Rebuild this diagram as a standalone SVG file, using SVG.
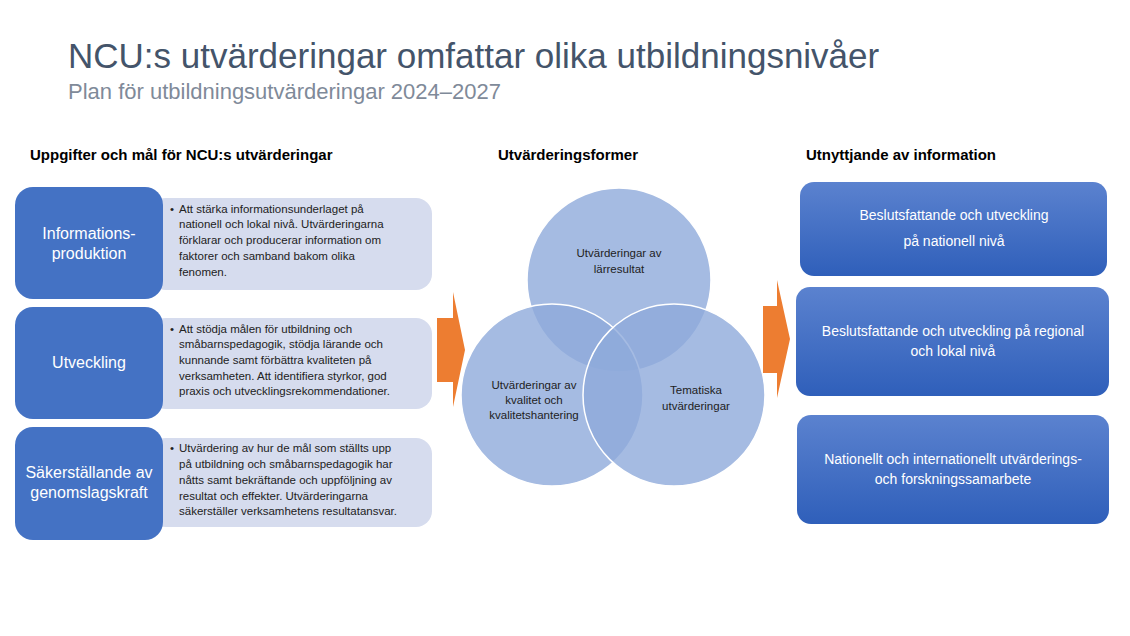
<svg xmlns="http://www.w3.org/2000/svg" width="1130" height="636" viewBox="0 0 1130 636">
<style>
text{font-family:"Liberation Sans",Arial,sans-serif}
.dark{fill:#4472c4}
.light{fill:#d6dcee}
.lbl{fill:#fff;font-size:16px;text-anchor:middle}
.desc{fill:#222;font-size:11.5px}
.head{fill:#000;font-size:15px;font-weight:bold}
.circ{fill:#8eaadb;fill-opacity:0.8;stroke:#fff;stroke-width:1.5}
.ctext{fill:#222;font-size:11.5px;text-anchor:middle}
.rbox{fill:url(#g)}
.rtext{fill:#fff;font-size:14px;text-anchor:middle}
.arrow{fill:#ed7d31}
</style>
<defs>
<linearGradient id="g" x1="0" y1="0" x2="0" y2="1">
<stop offset="0" stop-color="#5b82cf"/>
<stop offset="1" stop-color="#2f5fba"/>
</linearGradient>
</defs>
<rect width="1130" height="636" fill="#fff"/>
<text x="68" y="68" font-size="35" fill="#44546a">NCU:s utvärderingar omfattar olika utbildningsnivåer</text>
<text x="68" y="99" font-size="22" fill="#7f8a99">Plan för utbildningsutvärderingar 2024–2027</text>
<text class="head" x="30" y="160">Uppgifter och mål för NCU:s utvärderingar</text>
<text class="head" x="498" y="160">Utvärderingsformer</text>
<text class="head" x="806" y="160">Utnyttjande  av information</text>

<g id="n1">
<rect class="light" x="150" y="198" width="282" height="92" rx="16"/>
<rect class="dark" x="15" y="187" width="148" height="112" rx="18"/>
<text class="lbl" x="89" y="239">Informations-</text>
<text class="lbl" x="89" y="259">produktion</text>
<text class="desc" x="170" y="213">•</text>
<text class="desc" x="179" y="213">Att stärka informationsunderlaget på</text>
<text class="desc" x="179" y="228">nationell och lokal nivå. Utvärderingarna</text>
<text class="desc" x="179" y="244">förklarar och producerar information om</text>
<text class="desc" x="179" y="260">faktorer och samband bakom olika</text>
<text class="desc" x="179" y="276">fenomen.</text>
</g>
<g id="n2">
<rect class="light" x="150" y="318" width="282" height="91" rx="16"/>
<rect class="dark" x="15" y="307" width="148" height="112" rx="18"/>
<text class="lbl" x="89" y="368">Utveckling</text>
<text class="desc" x="170" y="333">•</text>
<text class="desc" x="179" y="333">Att stödja målen för utbildning och</text>
<text class="desc" x="179" y="348">småbarnspedagogik, stödja lärande och</text>
<text class="desc" x="179" y="364">kunnande samt förbättra kvaliteten på</text>
<text class="desc" x="179" y="380">verksamheten. Att identifiera styrkor, god</text>
<text class="desc" x="179" y="395">praxis och utvecklingsrekommendationer.</text>
</g>
<g id="n3">
<rect class="light" x="150" y="438" width="282" height="89" rx="16"/>
<rect class="dark" x="15" y="427" width="148" height="113" rx="18"/>
<text class="lbl" x="89" y="478">Säkerställande av</text>
<text class="lbl" x="89" y="498">genomslagskraft</text>
<text class="desc" x="170" y="452">•</text>
<text class="desc" x="179" y="452">Utvärdering av hur de mål som ställts upp</text>
<text class="desc" x="179" y="468">på utbildning och småbarnspedagogik har</text>
<text class="desc" x="179" y="484">nåtts samt bekräftande och uppföljning av</text>
<text class="desc" x="179" y="500">resultat och effekter. Utvärderingarna</text>
<text class="desc" x="179" y="515">säkerställer verksamhetens resultatansvar.</text>
</g>

<g id="connectors">
<polygon class="arrow" points="437,318 453,318 453,292 465,350 453,407 453,382 437,382"/>
<polygon class="arrow" points="763,306 777,306 777,280 790,339 777,398 777,373 763,373"/>
</g>

<g id="venn">
<circle class="circ" cx="619" cy="280" r="92"/>
<circle class="circ" cx="552" cy="395" r="91"/>
<circle class="circ" cx="674" cy="395" r="91"/>
<text class="ctext" x="619" y="257">Utvärderingar av</text>
<text class="ctext" x="619" y="273">lärresultat</text>
<text class="ctext" x="534" y="389">Utvärderingar av</text>
<text class="ctext" x="534" y="404">kvalitet och</text>
<text class="ctext" x="534" y="419">kvalitetshantering</text>
<text class="ctext" x="696" y="394">Tematiska</text>
<text class="ctext" x="696" y="410">utvärderingar</text>
</g>

<g id="r1">
<rect class="rbox" x="800" y="182" width="307" height="94" rx="14"/>
<text class="rtext" x="954" y="220">Beslutsfattande och utveckling</text>
<text class="rtext" x="954" y="246">på nationell nivå</text>
</g>
<g id="r2">
<rect class="rbox" x="796" y="287" width="313" height="109" rx="14"/>
<text class="rtext" x="953" y="336">Beslutsfattande och utveckling på regional</text>
<text class="rtext" x="953" y="356">och lokal nivå</text>
</g>
<g id="r3">
<rect class="rbox" x="797" y="415" width="312" height="109" rx="14"/>
<text class="rtext" x="953" y="464">Nationellt och internationellt utvärderings-</text>
<text class="rtext" x="953" y="484">och forskningssamarbete</text>
</g>
</svg>
